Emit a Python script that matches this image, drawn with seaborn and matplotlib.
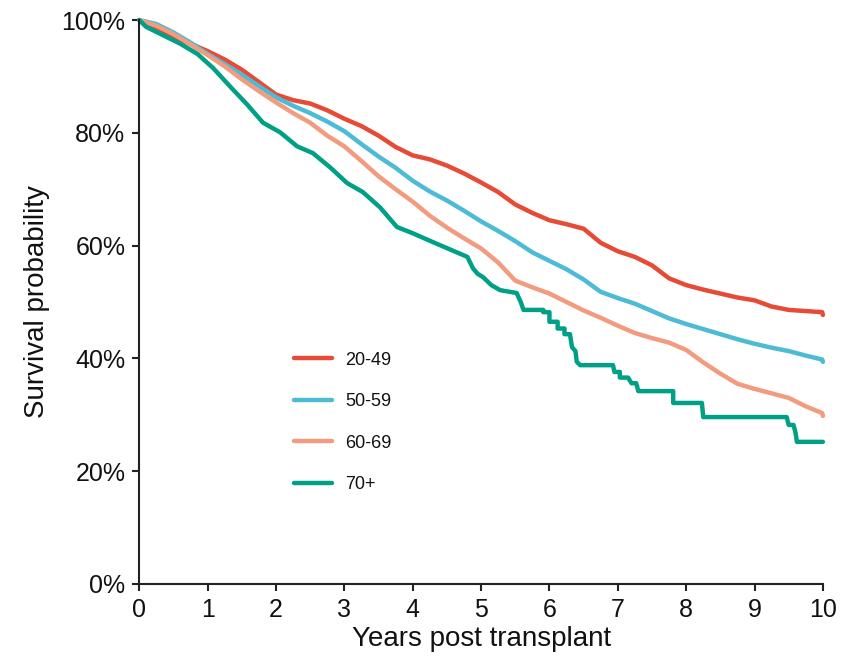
import numpy as np
import pandas as pd
from matplotlib import pyplot as plt
from matplotlib.ticker import PercentFormatter
import seaborn as sns

# age groups and read-off KM curves (years, survival %)
groups = ["20-49", "50-59", "60-69", "70+"]
colors = ["#E64B35", "#4DBBD5", "#F39B7F", "#00A087"]

t_grid = [0, 0.25, 0.5, 0.75, 1.0, 1.25, 1.5, 1.75, 2.0, 2.25, 2.5, 2.75,
          3.0, 3.25, 3.5, 3.75, 4.0, 4.25, 4.5, 4.75, 5.0, 5.25, 5.5, 5.75,
          6.0, 6.25, 6.5, 6.75, 7.0, 7.25, 7.5, 7.75, 8.0, 8.25, 8.5, 8.75,
          9.0, 9.25, 9.5, 9.75, 9.99, 10.0]

surv_2049 = [100, 98.5, 97, 95.8, 94.5, 93, 91.2, 89, 86.8, 85.8, 85.2, 84,
             82.5, 81.2, 79.5, 77.5, 76, 75.3, 74.2, 72.8, 71.2, 69.5, 67.3, 65.8,
             64.5, 63.8, 63, 60.5, 59, 58, 56.5, 54.2, 53, 52.2, 51.5, 50.8,
             50.3, 49.2, 48.6, 48.4, 48.2, 47.7]
surv_5059 = [100, 99.3, 97.8, 96, 94, 92.2, 90.3, 88.3, 86.3, 84.8, 83.5, 82,
             80.3, 78, 75.8, 73.8, 71.5, 69.6, 68, 66.2, 64.3, 62.6, 60.8, 58.8,
             57.3, 55.8, 54, 51.8, 50.7, 49.7, 48.4, 47.1, 46.1, 45.2, 44.3, 43.4,
             42.6, 41.9, 41.3, 40.5, 39.8, 39.4]
surv_6069 = [100, 99, 97.5, 95.7, 93.8, 91.8, 89.5, 87.4, 85.4, 83.5, 81.8, 79.5,
             77.6, 75, 72.3, 70, 67.8, 65.3, 63.2, 61.3, 59.5, 57, 53.8, 52.6,
             51.5, 50, 48.5, 47.2, 45.8, 44.5, 43.6, 42.8, 41.5, 39.3, 37.3, 35.5,
             34.6, 33.8, 33, 31.5, 30.3, 29.8]

# 70+ has few patients: steps are visible, so vertices are kept as read
t_70 = [0, 0.1, 0.35, 0.6, 0.85, 1.08, 1.33, 1.58, 1.81, 2.06, 2.31, 2.54,
        2.79, 3.04, 3.27, 3.52, 3.77, 4.0, 4.3, 4.8, 4.88, 4.95, 5.03, 5.15,
        5.28, 5.52, 5.58, 5.62, 5.91, 5.91, 6.0, 6.0, 6.12, 6.12, 6.22, 6.22,
        6.3, 6.33, 6.38, 6.4, 6.45, 6.93, 6.95, 7.03, 7.03, 7.15, 7.2, 7.27,
        7.3, 7.81, 7.81, 8.23, 8.25, 9.47, 9.5, 9.57, 9.6, 9.62, 10.0]
surv_70 = [100, 98.8, 97.3, 95.8, 94, 91.5, 88.2, 85, 81.8, 80.1, 77.6, 76.4,
           73.9, 71.1, 69.5, 66.8, 63.3, 62.2, 60.6, 58, 56, 55, 54.4, 53,
           52.1, 51.6, 50, 48.6, 48.6, 48.2, 48.2, 46.5, 46.5, 45.3, 45.3, 44.3,
           44.3, 42, 41.3, 39.4, 38.8, 38.8, 37.6, 37.6, 36.6, 36.6, 35.6, 35.6,
           34.2, 34.2, 32.1, 32.1, 29.6, 29.6, 28.2, 28.2, 26.8, 25.2, 25.2]

frames = []
for g, s in zip(groups[:3], [surv_2049, surv_5059, surv_6069]):
    frames.append(pd.DataFrame({"time": t_grid, "surv": s, "group": g}))
frames.append(pd.DataFrame({"time": t_70, "surv": surv_70, "group": "70+"}))
df = pd.concat(frames, ignore_index=True)

sns.set_style("ticks")
plt.rcParams['font.family'] = ['Liberation Sans', 'DejaVu Sans']

fig = plt.figure(figsize=(8.44, 6.58), dpi=100)
ax = fig.add_axes([0.165, 0.1125, 0.81, 0.857])

sns.lineplot(data=df, x="time", y="surv", hue="group", hue_order=groups,
             palette=colors, estimator=None, sort=False,
             linewidth=3.2, ax=ax, clip_on=False)

ax.set_xlim(0, 10)
ax.set_ylim(0, 100)
ax.set_xticks(range(0, 11))
ax.set_yticks([0, 20, 40, 60, 80, 100])
ax.yaxis.set_major_formatter(PercentFormatter(decimals=0))
ax.tick_params(length=5, width=1.5, color="#222222", pad=5, labelsize=18,
               labelcolor="#111111")
ax.set_xlabel("Years post transplant", fontsize=20, labelpad=3, color="#111111")
ax.set_ylabel("Survival probability", fontsize=20, labelpad=8, color="#111111")
for sp in ["left", "bottom"]:
    ax.spines[sp].set_linewidth(1.5)
    ax.spines[sp].set_color("#222222")
sns.despine(ax=ax)

leg = ax.legend(loc="upper left", bbox_to_anchor=(0.203, 0.441), frameon=False,
                fontsize=13, handlelength=2.1, handletextpad=0.7, labelspacing=1.36,
                labelcolor="#111111")
for h in leg.get_lines():
    h.set_linewidth(3.2)

plt.savefig("out.png", dpi=100)
